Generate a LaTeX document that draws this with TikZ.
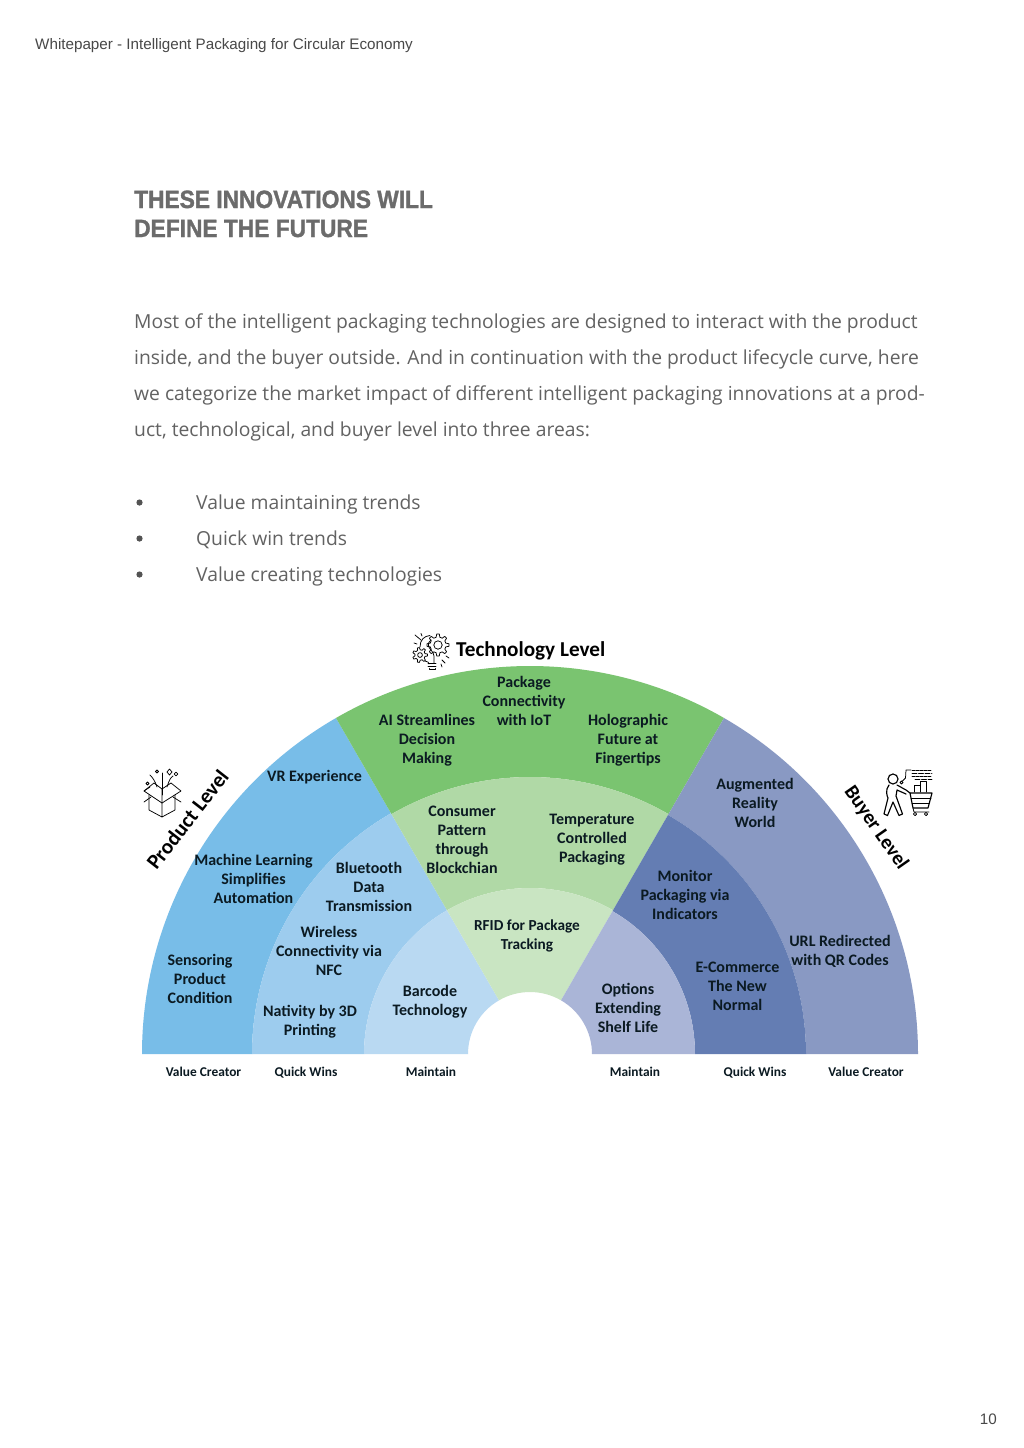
\documentclass[tikz,border=0pt]{standalone}
\usepackage{fontspec}
\setmainfont{Carlito}
\newfontfamily\bodyfont{Open Sans}
\newfontfamily\headfont{Liberation Sans}
\newfontfamily\titlefont[FakeStretch=0.91,BoldFeatures={FakeBold=1.3}]{Liberation Sans}
\usetikzlibrary{calc}
\definecolor{ink}{HTML}{0B1A22}
\definecolor{bluethree}{HTML}{78BDE8}
\definecolor{bluetwo}{HTML}{9DCCEE}
\definecolor{blueone}{HTML}{B9D9F2}
\definecolor{greenthree}{HTML}{7AC470}
\definecolor{greentwo}{HTML}{B0D9A6}
\definecolor{greenone}{HTML}{C9E5C2}
\definecolor{navythree}{HTML}{8999C3}
\definecolor{navytwo}{HTML}{647DB3}
\definecolor{navyone}{HTML}{AAB5D7}
\definecolor{bodygrey}{HTML}{626262}
\definecolor{titlegrey}{HTML}{6B6B6B}
\definecolor{headgrey}{HTML}{484848}
\newcommand{\sectorfill}[5]{%
  \fill[#5] ($(hub)+(#1:#4pt)$) arc[start angle=#1,end angle=#2,radius=#4pt]
    -- ($(hub)+(#2:#3pt)$) arc[start angle=#2,end angle=#1,radius=#3pt] -- cycle;}
\tikzset{
  x=1pt,y=1pt,
  lab/.style={font=\bfseries\fontsize{16}{19.2}\selectfont,text=ink,align=center,inner sep=0pt},
  cat/.style={font=\bfseries\fontsize{13.4}{15}\selectfont,text=ink,inner sep=0pt},
  level/.style={font=\bfseries\fontsize{21.2}{24}\selectfont,text=black,inner sep=0pt},
  bodyline/.style={font=\bodyfont\fontsize{19.3}{24}\selectfont,text=bodygrey,anchor=base west,inner sep=0pt},
  titleline/.style={font=\titlefont\bfseries\fontsize{25}{28}\selectfont,text=titlegrey,anchor=base west,inner sep=0pt},
  icon/.style={draw=black,line width=1.15pt,line cap=round,line join=round,fill=none},
  thin icon/.style={draw=black,line width=.75pt,line cap=round,line join=round,fill=none},
}
\begin{document}
\begin{tikzpicture}
\useasboundingbox (0,0) rectangle (1024,-1448);
\fill[white] (0,0) rectangle (1024,-1448);
\coordinate (hub) at (530,-1054);
% rings
\sectorfill{120}{180}{278}{388}{bluethree}
\sectorfill{120}{180}{166}{278}{bluetwo}
\sectorfill{120}{180}{62}{166}{blueone}
\sectorfill{60}{120}{277}{388}{greenthree}
\sectorfill{60}{120}{166}{277}{greentwo}
\sectorfill{60}{120}{62}{166}{greenone}
\sectorfill{0}{60}{276}{388}{navythree}
\sectorfill{0}{60}{165}{276}{navytwo}
\sectorfill{0}{60}{62}{165}{navyone}
% page text
\node[font=\headfont\fontsize{15.2}{17}\selectfont,text=headgrey,anchor=base west,inner sep=0pt] (header) at (35,-49) {Whitepaper - Intelligent Packaging for Circular Economy};
\node[titleline] (title1) at (134,-208) {THESE INNOVATIONS WILL};
\node[titleline] (title2) at (134,-237) {DEFINE THE FUTURE};
\node[bodyline] (b1) at (134,-328) {Most of the intelligent packaging technologies are designed to interact with the product};
\node[bodyline] (b2) at (134,-364) {inside, and the buyer outside. And in continuation with the product lifecycle curve, here};
\node[bodyline] (b3) at (134,-400) {we categorize the market impact of different intelligent packaging innovations at a prod-};
\node[bodyline] (b4) at (134,-436) {uct, technological, and buyer level into three areas:};
\node[bodyline] (l1) at (196,-509) {Value maintaining trends};
\node[bodyline] (l2) at (196,-545) {Quick win trends};
\node[bodyline] (l3) at (196,-581) {Value creating technologies};
\fill[bodygrey!85!black] (139.5,-502.5) circle (3.1) (139.5,-538.5) circle (3.1) (139.5,-574.5) circle (3.1);
\node[font=\headfont\fontsize{15.2}{17}\selectfont,text=headgrey,anchor=base east,inner sep=0pt] (pageno) at (997,-1424) {10};
% level titles
\node[level,anchor=west] (tech) at (456,-651) {Technology Level};
\node[level,rotate=52,font=\bfseries\fontsize{21.2}{24}\selectfont] (prod) at (187.5,-819.5) {Product Level};
\node[level,rotate=-55,font=\bfseries\fontsize{20.2}{24}\selectfont] (buyer) at (876,-828) {Buyer Level};
% labels
\node[lab] (n1) at (524,-701) {Package\\Connectivity\\with IoT};
\node[lab] (n2) at (427,-740.5) {AI Streamlines\\Decision\\Making};
\node[lab] (n3) at (628,-740.5) {Holographic\\Future at\\Fingertips};
\node[lab] (n4) at (314.5,-777.5) {VR Experience};
\node[lab] (n5) at (755,-803) {Augmented\\Reality\\World};
\node[lab] (n6) at (462,-840) {Consumer\\Pattern\\through\\Blockchian};
\node[lab] (n7) at (592,-839.5) {Temperature\\Controlled\\Packaging};
\node[lab] (n8) at (253.5,-879) {Machine Learning\\Simplifies\\Automation};
\node[lab] (n9) at (369,-887) {Bluetooth\\Data\\Transmission};
\node[lab] (n10) at (685,-895) {Monitor\\Packaging via\\Indicators};
\node[lab,font=\bfseries\fontsize{15.3}{19.2}\selectfont] (n11) at (527,-936) {RFID for Package\\Tracking};
\node[lab] (n12) at (329,-951) {Wireless\\Connectivity via\\NFC};
\node[lab] (n13) at (840,-951) {URL Redirected\\with QR Codes};
\node[lab] (n14) at (200,-979) {Sensoring\\Product\\Condition};
\node[lab] (n15) at (737.5,-986) {E-Commerce\\The New\\Normal};
\node[lab] (n16) at (628,-1008) {Options\\Extending\\Shelf Life};
\node[lab] (n17) at (430,-1002) {Barcode\\Technology};
\node[lab] (n18) at (310,-1022) {Nativity by 3D\\Printing};
% bottom categories
\node[cat] (c1) at (203.5,-1072) {Value Creator};
\node[cat] (c2) at (306,-1073) {Quick Wins};
\node[cat] (c3) at (431,-1072) {Maintain};
\node[cat] (c4) at (635,-1072) {Maintain};
\node[cat] (c5) at (755,-1073) {Quick Wins};
\node[cat] (c6) at (866,-1072) {Value Creator};
% technology icon: bulb with gears
\foreach \cx/\cy/\ro/\rb/\n in {438/-645/11/8/8,420/-655/7.5/5.2/7}{
  \draw[thin icon] ($(\cx,\cy)+({360/\n*(1-.3)}:\rb)$)
    \foreach \k in {1,...,\n}{
      -- ($(\cx,\cy)+({360/\n*(\k-.3)}:\rb)$)
      -- ($(\cx,\cy)+({360/\n*(\k-.15)}:\ro)$)
      -- ($(\cx,\cy)+({360/\n*(\k+.15)}:\ro)$)
      -- ($(\cx,\cy)+({360/\n*(\k+.3)}:\rb)$)
    } -- cycle;
}
\draw[thin icon] (438,-645) circle (4.2) (420,-655) circle (2.4);
\draw[thin icon] (430,-635.5) .. controls (424,-636) and (420,-640) .. (420,-647);
\draw[thin icon] (431,-640) .. controls (427,-643) and (428,-647) .. (431,-650) .. controls (435,-654) and (434,-658) .. (434,-663);
\draw[thin icon] (425,-661) .. controls (428,-662) and (429,-662) .. (429,-664);
\draw[thin icon] (428,-663.5) -- (436,-663.5) (428,-666) -- (436,-666) (429,-668.5) -- (429,-669.5) -- (435,-669.5) -- (435,-668.5);
\draw[thin icon] (415,-635) -- (421,-640) (414,-643) -- (417,-644) (421,-633.5) -- (422,-636) (442,-660) -- (445,-663) (446,-656) -- (449,-658) (441,-664) -- (442,-667);
% product icon: opening box
\draw[thin icon] (144,-791) -- (154,-783) -- (162,-789) -- (171,-783) -- (181,-791) -- (162,-803) -- cycle;
\draw[thin icon] (144,-791) -- (150,-787) (162,-789) -- (162,-803);
\draw[thin icon] (149,-795) -- (149,-810) -- (162,-817) -- (175,-810) -- (175,-795) (162,-803) -- (162,-817);
\draw[thin icon] (144,-802) -- (151,-797) (181,-802) -- (173,-797);
\draw[thin icon] (162,-773) -- (162,-795);
\draw[thin icon] (157,-787) .. controls (155,-781) and (153,-778) .. (150,-775) (167,-787) .. controls (169,-781) and (170,-778) .. (173,-776);
\draw[thin icon] (167,-772) -- (169.5,-769) -- (172,-772) -- (169.5,-775) -- cycle;
\draw[thin icon] (176,-774) circle (1.8) (157,-771.5) circle (1.5) (147.5,-783.5) circle (1.5);
% buyer icon: person with cart
\draw[icon] (893,-779) circle (5);
\draw[icon] (889,-785) .. controls (885,-790) and (887,-796) .. (888,-798) -- (884,-814) -- (887.5,-815.5) -- (893,-802) -- (899,-815.5) -- (902.5,-814) -- (896,-796) -- (897,-790) -- (906,-794);
\draw[icon] (897,-785) -- (906,-790) -- (910,-793);
\draw[thin icon] (901.5,-782.5) circle (1.5);
\draw[thin icon] (902.5,-781) -- (905.5,-778) -- (906,-770) -- (911,-770);
\draw[icon] (910,-793) -- (932,-793) -- (928,-808) -- (913,-808) -- cycle;
\draw[thin icon] (911,-798) -- (931,-798) (912,-803) -- (929.5,-803);
\draw[thin icon] (913,-808) -- (914,-812) -- (929,-812);
\draw[thin icon] (915,-814) circle (1.7) (926,-814) circle (1.7);
\draw[thin icon] (914,-792) -- (914,-785) -- (920,-785) -- (920,-781) -- (926,-781) -- (926,-792) (920,-785) -- (920,-792);
\draw[thin icon,dash pattern=on 3pt off 1pt] (912,-770) -- (932,-770) (912,-776) -- (932,-776);
\draw[thin icon,dash pattern=on 5pt off 1.5pt] (912,-773) -- (932,-773) (915,-779) -- (932,-779);
\end{tikzpicture}
\end{document}
